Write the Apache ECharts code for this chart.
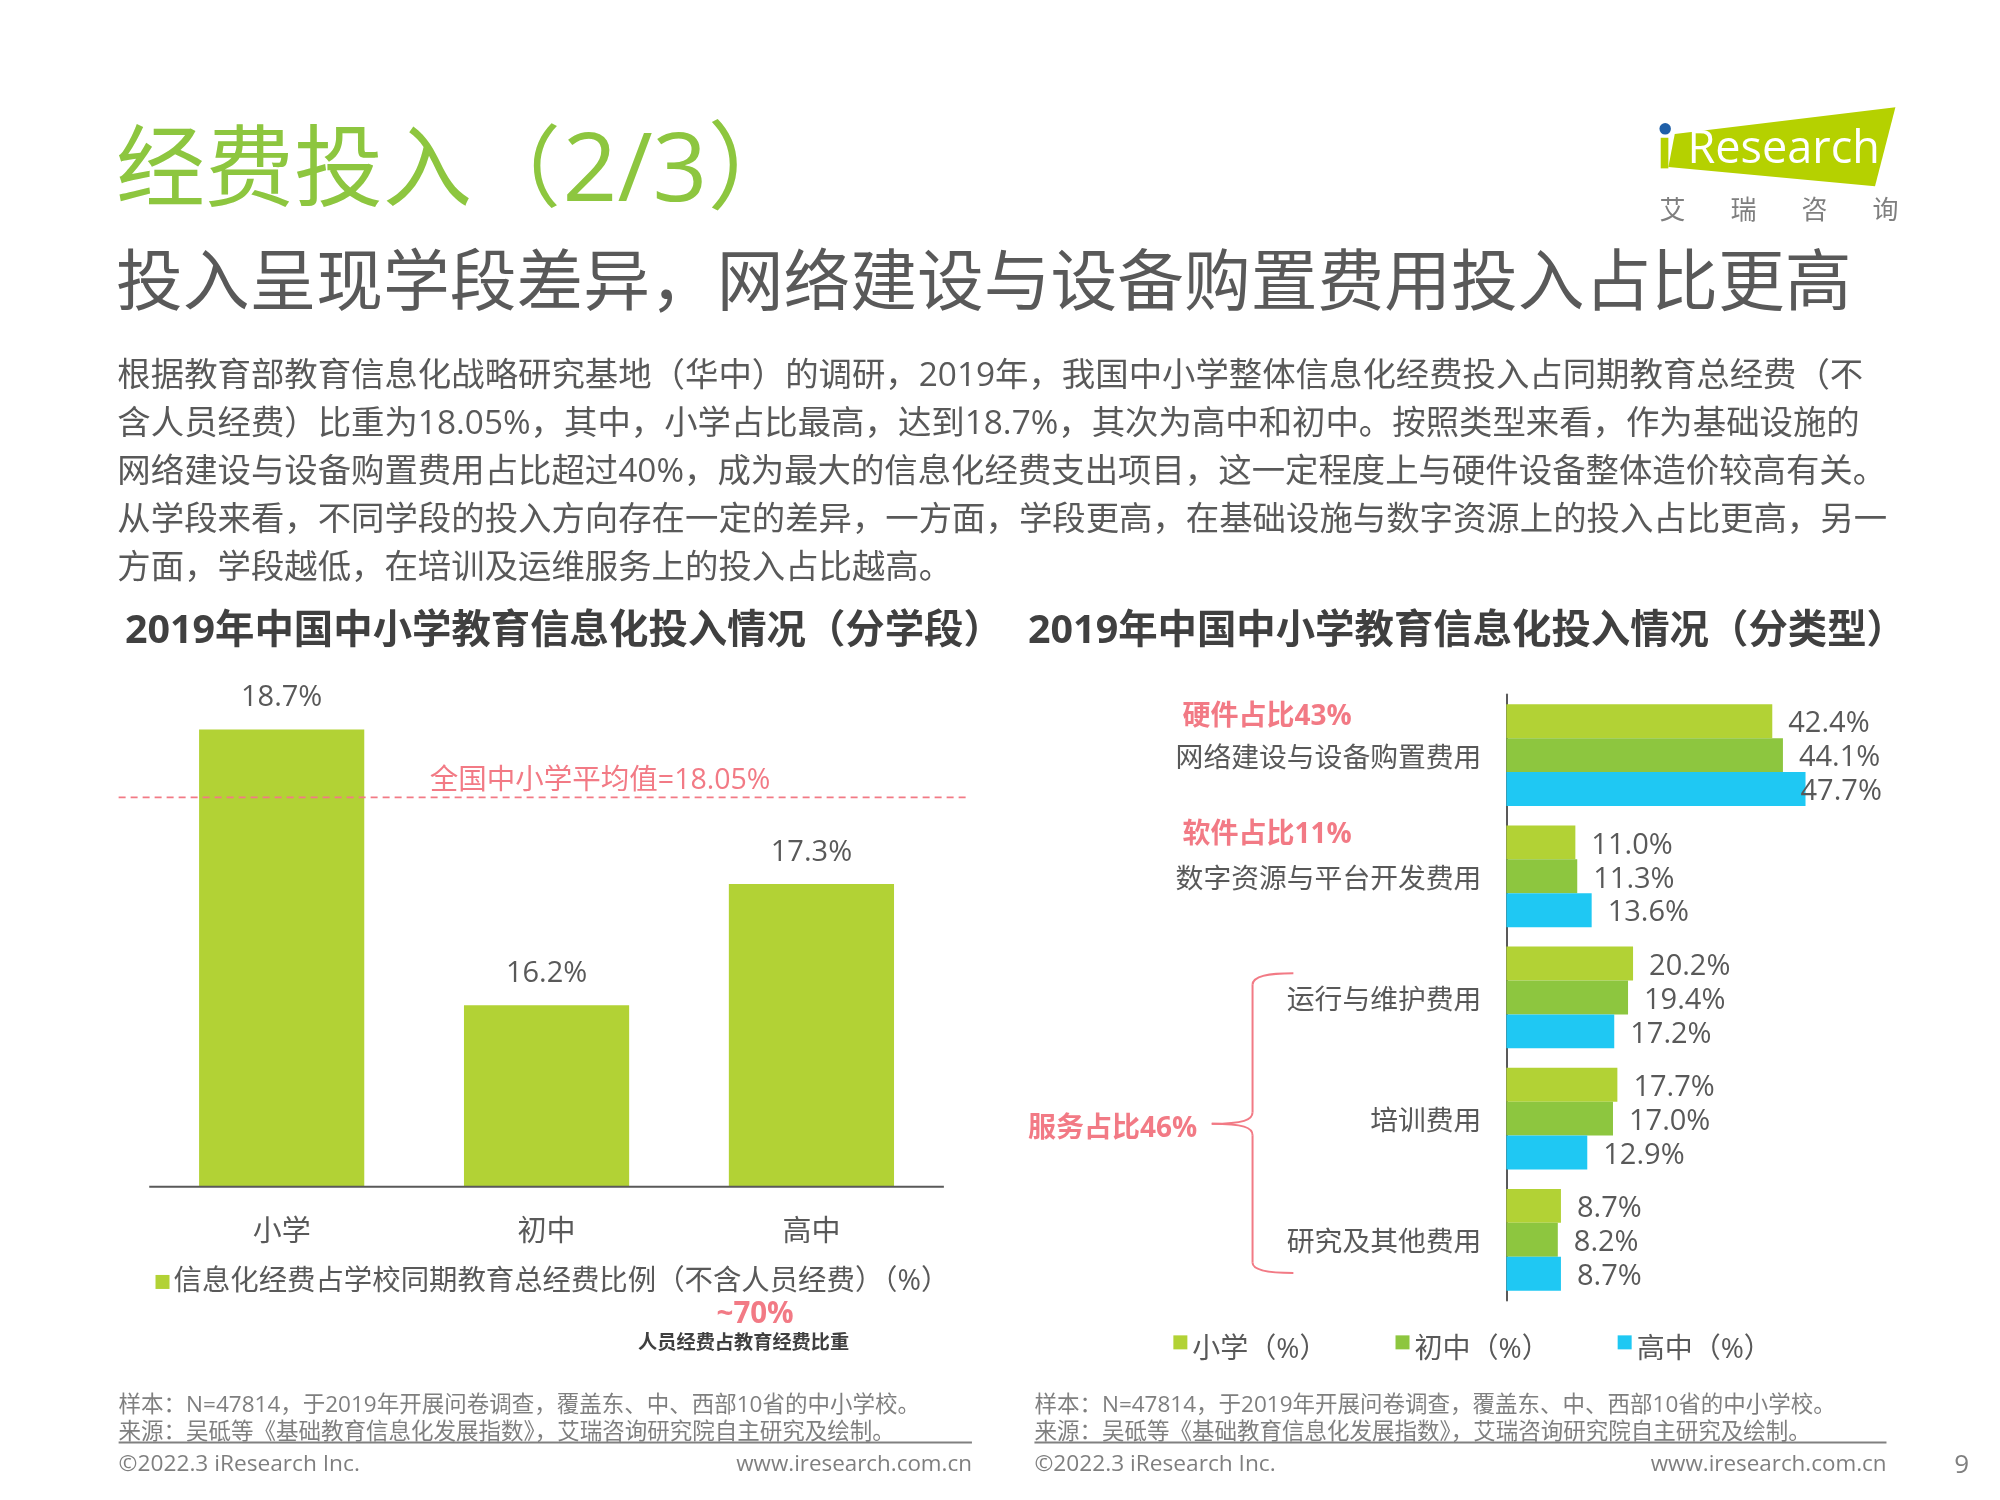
<!DOCTYPE html>
<html><head><meta charset="utf-8">
<style>html,body{margin:0;padding:0;background:#fff}#c{width:2000px;height:1500px}</style>
<script src="https://cdn.jsdelivr.net/npm/echarts@6/dist/echarts.min.js"></script>
</head><body><div id="c"></div>
<script>
const levels = ['小学','初中','高中'];
const levelShare = [18.7,16.2,17.3];
const nationalAvg = 18.05;
const types = ['网络建设与设备购置费用','数字资源与平台开发费用','运行与维护费用','培训费用','研究及其他费用'];
const primary = [42.4,11.0,20.2,17.7,8.7];
const junior = [44.1,11.3,19.4,17.0,8.2];
const senior = [47.7,13.6,17.2,12.9,8.7];
const leftLegend = '信息化经费占学校同期教育总经费比例（不含人员经费）（%）';
const paragraph = [
 '根据教育部教育信息化战略研究基地（华中）的调研，2019年，我国中小学整体信息化经费投入占同期教育总经费（不',
 '含人员经费）比重为18.05%，其中，小学占比最高，达到18.7%，其次为高中和初中。按照类型来看，作为基础设施的',
 '网络建设与设备购置费用占比超过40%，成为最大的信息化经费支出项目，这一定程度上与硬件设备整体造价较高有关。',
 '从学段来看，不同学段的投入方向存在一定的差异，一方面，学段更高，在基础设施与数字资源上的投入占比更高，另一',
 '方面，学段越低，在培训及运维服务上的投入占比越高。'];
const sample = '样本：N=47814，于2019年开展问卷调查，覆盖东、中、西部10省的中小学校。';
const source = '来源：吴砥等《基础教育信息化发展指数》，艾瑞咨询研究院自主研究及绘制。';

const K = 2000/1568, s = v => v*K;
const FONT = '"Open Sans","Noto Sans CJK SC",sans-serif';
const LIME='#B2D235', GREEN='#8DC63F', BLUE='#1FC8F3', PINK='#F27A85', GRAY='#595959', DARK='#404040';

function T(text,x,y,size,color,o){o=o||{};return {type:'text',silent:true,z:20,style:{text,x:s(x),y:s(y+2),fill:color,
  font:(o.w||'normal')+' '+size+'px '+FONT,textAlign:o.a||'left',textVerticalAlign:'middle'}};}
function L(x1,x2,y,color,w){return {type:'line',silent:true,z:20,shape:{x1:s(x1),y1:s(y),x2:s(x2),y2:s(y)},style:{stroke:color,lineWidth:w||1.5}};}
function braceLine(x1,y1,x2,y2){return {type:'line',silent:true,z:20,shape:{x1:s(x1),y1:s(y1),x2:s(x2),y2:s(y2)},style:{stroke:PINK,lineWidth:2}};}
function braceCurve(a,b,c,d){return {type:'bezierCurve',silent:true,z:20,shape:{x1:s(a[0]),y1:s(a[1]),cpx1:s(b[0]),cpy1:s(b[1]),cpx2:s(c[0]),cpy2:s(c[1]),x2:s(d[0]),y2:s(d[1])},style:{stroke:PINK,lineWidth:2,fill:null}};}

const graphics = [
 T('经费投入（',91,134,89,GREEN),
 T('2/3）',441,134,96,GREEN),
 T('投入呈现学段差异，网络建设与设备购置费用投入占比更高',91,222,66.75,GRAY),
 ...paragraph.map((t,i)=>T(t,92,293+i*37.7,33.4,GRAY)),
 T('2019年中国中小学教育信息化投入情况（分学段）',98,493,39.4,DARK,{w:'bold'}),
 T('2019年中国中小学教育信息化投入情况（分类型）',806,493,39.4,DARK,{w:'bold'}),
 T('全国中小学平均值=18.05%',337,610,28.5,PINK),
 T('~70%',592,1029,29.5,PINK,{w:'bold',a:'center'}),
 T('人员经费占教育经费比重',583,1051,19.2,DARK,{w:'bold',a:'center'}),
 T('硬件占比43%',927,560,28,PINK,{w:'bold'}),
 T('软件占比11%',927,653,28,PINK,{w:'bold'}),
 T('服务占比46%',806,883,28,PINK,{w:'bold'}),
 braceCurve([1014,763],[995,763],[982,765],[982,772]), braceLine(982,772,982,872),
 braceCurve([982,872],[982,878],[975,881],[950,881]), braceCurve([950,881],[975,881],[982,884],[982,890]),
 braceLine(982,890,982,990), braceCurve([982,990],[982,996],[995,998],[1014,998]),
 T(sample,93,1100,22.5,'#7F7F7F'), T(source,93,1121,22.5,'#7F7F7F'),
 T(sample,811,1100,22.5,'#7F7F7F'), T(source,811,1121,22.5,'#7F7F7F'),
 L(93,762,1131,'#808080',2), L(811,1479,1131,'#808080',2),
 T('©2022.3 iResearch Inc.',93,1146,22.7,'#7F7F7F'), T('www.iresearch.com.cn',762,1146,22.4,'#7F7F7F',{a:'right'}),
 T('©2022.3 iResearch Inc.',811,1146,22.7,'#7F7F7F'), T('www.iresearch.com.cn',1479,1146,22.4,'#7F7F7F',{a:'right'}),
 T('9',1538,1147,26,'#7F7F7F',{a:'center'}),
 L(117,740,930.5,GRAY,2),
 {type:'polygon',silent:true,z:19,shape:{points:[[1313,105],[1486,84],[1470,146],[1308,131]].map(p=>[s(p[0]),s(p[1])])},style:{fill:'#B5D100'}},
 {type:'rect',silent:true,z:20,shape:{x:s(1302),y:s(108),width:s(6),height:s(24)},style:{fill:'#B5D100'}},
 {type:'circle',silent:true,z:20,shape:{cx:s(1305.5),cy:s(101),r:s(4.5)},style:{fill:'#1F5FA8'}},
 T('Research',1323,116,45,'#fff'),
 ...['艾','瑞','咨','询'].map((c,i)=>T(c,1301+i*55.7,164,26,'#7F7F7F'))
];
const labelStyle = {show:true,position:'right',distance:16,offset:[0,3],color:GRAY,fontSize:29,fontFamily:FONT,formatter:p=>p.value.toFixed(1)+'%'};
function hbar(name,vals,color){return {name,type:'bar',xAxisIndex:1,yAxisIndex:1,barGap:0,barCategoryGap:'16%',
  itemStyle:{color},label:labelStyle,data:vals.map(v=>v)};}
const seniorSeries = hbar('高中（%）',senior,BLUE);
seniorSeries.data = senior.map((v,i)=> i===0 ? {value:v,label:{distance:-5}} : v);

const option = {
 animation:false,
 grid:[
  {left:s(117),width:s(623),top:s(546),height:s(384)},
  {left:s(1181),width:s(295),top:s(544.5),height:s(475)},
  {left:s(93),width:s(665),top:s(543),height:s(384)}
 ],
 xAxis:[
  {type:'category',gridIndex:0,data:levels,axisLine:{show:false},axisTick:{show:false},
   axisLabel:{color:GRAY,fontSize:29,fontFamily:FONT,margin:32}},
  {type:'value',gridIndex:1,min:0,max:60,show:false},
  {type:'category',gridIndex:2,data:['',''],boundaryGap:false,show:false}
 ],
 yAxis:[
  {type:'value',gridIndex:0,min:14.56,max:19,show:false},
  {type:'category',gridIndex:1,data:types,inverse:true,axisTick:{show:false},
   axisLine:{lineStyle:{color:GRAY,width:2}},
   axisLabel:{margin:25,formatter:'{a|{value}}',rich:{a:{color:GRAY,fontSize:27.8,fontFamily:FONT,padding:[7,0,0,0]}}}},
  {type:'value',gridIndex:2,min:14.56,max:19,show:false}
 ],
 legend:[
  {left:s(118),top:s(990),data:[leftLegend],icon:'rect',itemWidth:14,itemHeight:14,itemGap:0,
   textStyle:{color:GRAY,fontSize:28.4,fontFamily:FONT,padding:[0,0,0,-1]}},
  {left:s(916),top:s(1043),data:['小学（%）','初中（%）','高中（%）'],icon:'rect',itemWidth:14,itemHeight:14,itemGap:68,
   formatter:'{a|{name}}',
   textStyle:{rich:{a:{color:GRAY,fontSize:28,fontFamily:FONT,padding:[16,0,0,0]}}}}
 ],
 series:[
  {name:leftLegend,type:'bar',xAxisIndex:0,yAxisIndex:0,barWidth:s(129.5),itemStyle:{color:LIME},data:levelShare,
   label:{show:true,position:'top',distance:17,color:GRAY,fontSize:29,fontFamily:FONT,formatter:p=>p.value.toFixed(1)+'%'}},
  {name:'全国中小学平均值',type:'line',xAxisIndex:2,yAxisIndex:2,symbol:'none',z:5,
   lineStyle:{color:PINK,width:1.8,type:[7,5]},data:[nationalAvg,nationalAvg]},
  hbar('小学（%）',primary,LIME),
  hbar('初中（%）',junior,GREEN),
  seniorSeries
 ],
 graphic:graphics
};
echarts.init(document.getElementById('c')).setOption(option);
</script></body></html>
